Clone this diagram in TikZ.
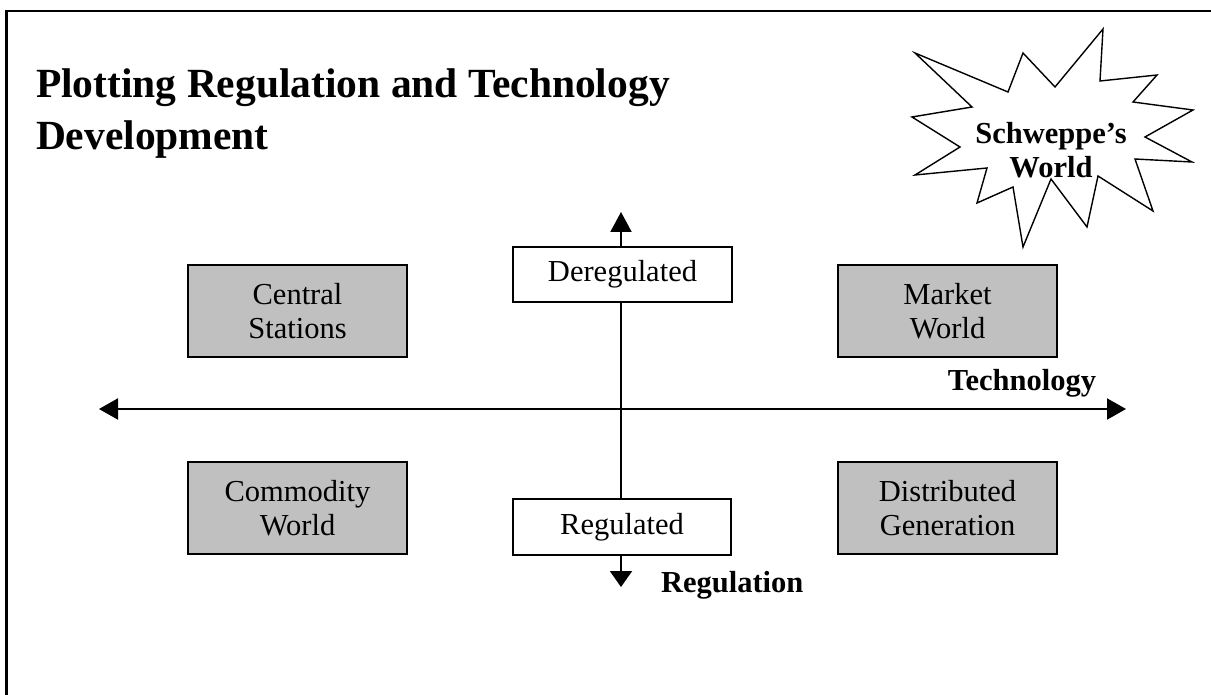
\documentclass[tikz,border=0pt]{standalone}
\usepackage{fontspec}
\setmainfont{Liberation Serif}
\usetikzlibrary{arrows.meta}
\definecolor{grisboite}{RGB}{192,192,192}
\tikzset{
  texte/.style={font=\fontsize{30.5}{34}\selectfont},
  titre/.style={font=\fontsize{41.5}{53}\selectfont\bfseries,inner sep=0pt},
  boite/.style={texte,draw,line width=1.6pt,fill=grisboite,minimum width=219pt,minimum height=92pt,align=center,inner sep=0pt},
  etiquette/.style={texte,draw,line width=1.6pt,fill=white,minimum width=219pt,minimum height=55pt,inner sep=0pt},
  fleche/.style={-{Triangle[length=19pt,width=21pt]}},
}
\begin{document}
\begin{tikzpicture}[x=1pt,y=-1pt,line width=2pt]
  \pgfmathsetmacro{\xgauche}{297.5}
  \pgfmathsetmacro{\xdroite}{947.5}
  \pgfmathsetmacro{\yhaut}{311}
  \pgfmathsetmacro{\ybas}{508}
  \pgfmathsetmacro{\xaxe}{621}
  \pgfmathsetmacro{\yaxe}{409}
  \useasboundingbox (0,0) rectangle (1211,695);
  \draw[line width=2.6pt] (6.5,720) -- (6.5,11) -- (1230,11);
  \node[titre,anchor=base west] (titreun) at (35,98) {Plotting Regulation and Technology};
  \node[titre,anchor=base west] (titredeux) at (35,150) {Development};
  \draw[line width=1.4pt,line join=miter] (915,53) -- (1008,92) -- (1023,53) -- (1055,87) -- (1103,29) -- (1100,81) -- (1157,75) -- (1133,102) -- (1193,110) -- (1145,137) -- (1192,162) -- (1135,159) -- (1153,211) -- (1098,176) -- (1087,227) -- (1051,179) -- (1023,247) -- (1013,187) -- (977,203) -- (987,168) -- (915,175) -- (960,147) -- (912,117) -- (972,107) -- cycle;
  \node[texte,font=\fontsize{30.5}{34}\selectfont\bfseries,align=center] (schweppe) at (1051,150) {Schweppe’s\\World};
  \coordinate (nord) at (\xaxe,212);
  \coordinate (sud) at (\xaxe,587);
  \coordinate (ouest) at (99,\yaxe);
  \coordinate (est) at (1126,\yaxe);
  \node[etiquette] (dereg) at (622.5,274.5) {Deregulated};
  \node[etiquette,minimum width=218pt,minimum height=56pt] (reg) at (622,527) {Regulated};
  \draw[{Triangle[length=19pt,width=21pt]}-{Triangle[length=19pt,width=21pt]}] (ouest) -- (est);
  \draw (dereg.south -| nord) -- (reg.north -| nord);
  \draw[-{Triangle[length=20pt,width=21pt]}] (dereg.north -| nord) -- (nord);
  \draw[-{Triangle[length=16pt,width=22pt]}] (reg.south -| nord) -- (sud);
  \node[boite] (centrales) at (\xgauche,\yhaut) {Central\\Stations};
  \node[boite] (marche) at (\xdroite,\yhaut) {Market\\World};
  \node[boite] (commodite) at (\xgauche,\ybas) {Commodity\\World};
  \node[boite] (distribuee) at (\xdroite,\ybas) {Distributed\\Generation};
  \node[texte,font=\fontsize{30.5}{34}\selectfont\bfseries,anchor=base east,inner sep=0pt] (techno) at (1097,390) {Technology};
  \node[texte,font=\fontsize{30.5}{34}\selectfont\bfseries,anchor=base west,inner sep=0pt] (regulation) at (660,592) {Regulation};
\end{tikzpicture}
\end{document}
